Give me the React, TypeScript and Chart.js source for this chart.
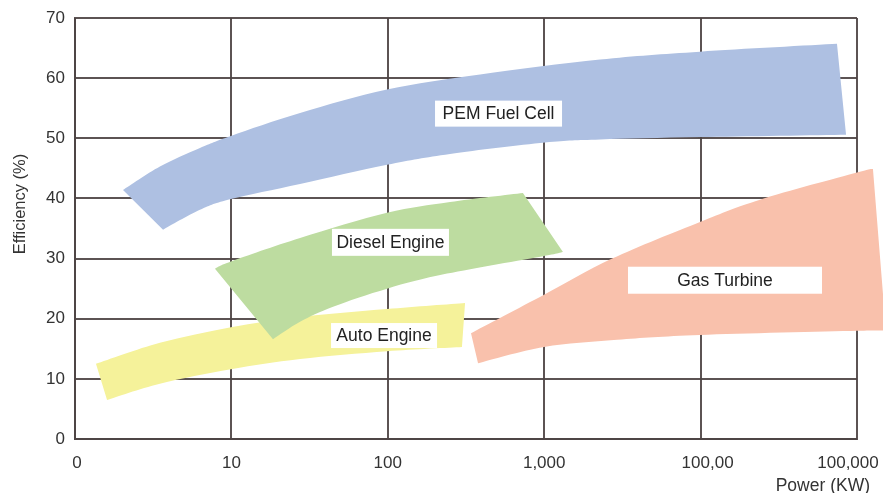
import React, { useEffect, useRef } from "react";
import { Chart, registerables } from "chart.js";

Chart.register(...registerables);

// x values are log10(power in kW); y values are efficiency in %
const pemFuelCellOutline: [number, number][] = [
  [0.307, 41.4], [0.543, 45.3], [0.799, 48.4], [0.997, 50.4], [1.439, 54.2],
  [1.995, 58.1], [2.59, 60.6], [3.357, 63.1], [3.996, 64.4], [4.872, 65.7],
  [4.93, 50.6], [3.996, 50.2], [3.357, 49.8], [3.005, 49.3], [2.398, 47.4],
  [1.995, 45.6], [1.439, 42.4], [0.997, 39.9], [0.799, 38.1], [0.563, 34.8],
];
const autoEngineOutline: [number, number][] = [
  [0.134, 12.5], [0.543, 16.0], [0.997, 18.6], [1.439, 20.3], [1.995, 21.6],
  [2.494, 22.6], [2.474, 15.3], [1.995, 14.6], [1.439, 13.3], [0.997, 11.6],
  [0.543, 9.2], [0.205, 6.5],
];
const dieselEngineOutline: [number, number][] = [
  [0.895, 28.3], [0.997, 29.5], [1.439, 33.4], [1.995, 37.6], [2.398, 39.4],
  [2.864, 40.9], [3.12, 31.1], [2.992, 30.4], [2.379, 27.5], [1.995, 25.0],
  [1.65, 22.0], [1.439, 19.5], [1.266, 16.6],
];
const gasTurbineOutline: [number, number][] = [
  [2.532, 17.6], [2.999, 24.0], [3.434, 30.0], [3.996, 36.1], [4.38, 39.8],
  [5.0, 44.3], [5.102, 44.9], [5.185, 18.0], [5.0, 18.0], [3.996, 17.3],
  [3.466, 16.5], [2.999, 15.3], [2.577, 12.6],
];

const seriesNames = ["PEM Fuel Cell", "Auto Engine", "Diesel Engine", "Gas Turbine"];
const seriesOutlines = [pemFuelCellOutline, autoEngineOutline, dieselEngineOutline, gasTurbineOutline];
const seriesColors = ["#aec0e2", "#f5f29a", "#bddca0", "#f9c1ac"];
// vertices where the band outline has a sharp corner (others are joined smoothly)
const seriesCorners = [[0, 9, 10, 19], [0, 5, 6, 11], [0, 5, 6, 12], [0, 6, 7, 12]];

const powerTickLabels = ["0", "10", "100", "1,000", "100,00", "100,000"];
const efficiencyTicks = [0, 10, 20, 30, 40, 50, 60, 70];

// label anchors (data coords) and white box sizes (px)
const labelTexts = ["PEM Fuel Cell", "Diesel Engine", "Auto Engine", "Gas Turbine"];
const labelAnchors: [number, number][] = [[2.708, 54.1], [2.017, 32.7], [1.976, 17.2], [4.156, 26.4]];
const labelBoxSizes: [number, number][] = [[127, 26], [117, 27], [106, 25], [194, 27]];
const tickLabelShift = [2, 0, 0, 0, 7, -9];

const FONT = '"Liberation Sans", Arial, sans-serif';
const GRID = "rgba(78,68,68,0.92)";

function smoothRun(ctx: any, pts: { x: number; y: number }[]) {
  const n = pts.length;
  for (let i = 0; i < n - 1; i++) {
    const p0 = pts[Math.max(i - 1, 0)];
    const p1 = pts[i];
    const p2 = pts[i + 1];
    const p3 = pts[Math.min(i + 2, n - 1)];
    const c1x = p1.x + (p2.x - p0.x) / 6;
    const c1y = p1.y + (p2.y - p0.y) / 6;
    const c2x = p2.x - (p3.x - p1.x) / 6;
    const c2y = p2.y - (p3.y - p1.y) / 6;
    ctx.bezierCurveTo(c1x, c1y, c2x, c2y, p2.x, p2.y);
  }
}

const polygonFill = {
  id: "polygonFill",
  beforeDatasetsDraw(chart: any) {
    const ctx = chart.ctx;
    chart.data.datasets.forEach((ds: any, i: number) => {
      const meta = chart.getDatasetMeta(i);
      const pts = meta.data.map((p: any) => ({ x: p.x, y: p.y }));
      if (!pts.length) return;
      const corners: number[] = ds.corners;
      ctx.save();
      ctx.beginPath();
      ctx.moveTo(pts[0].x, pts[0].y);
      for (let c = 0; c < corners.length; c++) {
        const a = corners[c];
        const b = c + 1 < corners.length ? corners[c + 1] : pts.length;
        const run = pts.slice(a, b + 1);
        if (b === pts.length) run.push(pts[0]);
        if (c % 2 === 0) smoothRun(ctx, run);
        else ctx.lineTo(run[run.length - 1].x, run[run.length - 1].y);
      }
      ctx.closePath();
      ctx.fillStyle = ds.backgroundColor;
      ctx.fill();
      ctx.restore();
    });
  },
};

const labelsPlugin = {
  id: "bandLabels",
  afterDraw(chart: any) {
    const ctx = chart.ctx;
    const xs = chart.scales.x;
    const ys = chart.scales.y;
    ctx.save();
    labelTexts.forEach((t, i) => {
      const cx = xs.getPixelForValue(labelAnchors[i][0]);
      const cy = ys.getPixelForValue(labelAnchors[i][1]);
      const [w, h] = labelBoxSizes[i];
      ctx.fillStyle = "#ffffff";
      ctx.fillRect(cx - w / 2, cy - h / 2, w, h);
      ctx.fillStyle = "#222222";
      ctx.font = `17.5px ${FONT}`;
      ctx.textAlign = "center";
      ctx.textBaseline = "middle";
      ctx.fillText(t, cx, cy + 1);
    });
    // x tick labels
    ctx.fillStyle = "#333333";
    ctx.font = `17px ${FONT}`;
    ctx.textAlign = "center";
    ctx.textBaseline = "middle";
    powerTickLabels.forEach((t, i) => {
      ctx.fillText(t, xs.getPixelForValue(i) + tickLabelShift[i], ys.bottom + 24);
    });
    // axis titles
    ctx.font = `17.5px ${FONT}`;
    ctx.textAlign = "right";
    ctx.textBaseline = "alphabetic";
    ctx.fillText("Power (KW)", 870, 491);
    ctx.save();
    ctx.translate(25, 204);
    ctx.rotate(-Math.PI / 2);
    ctx.font = `16.5px ${FONT}`;
    ctx.textAlign = "center";
    ctx.textBaseline = "alphabetic";
    ctx.fillText("Efficiency (%)", 0, 0);
    ctx.restore();
    ctx.restore();
  },
};

export default function App() {
  const ref = useRef<HTMLCanvasElement | null>(null);
  useEffect(() => {
    document.body.style.margin = "0";
    const canvas = ref.current;
    if (!canvas) return;
    const chart = new Chart(canvas, {
      type: "scatter",
      data: {
        datasets: seriesOutlines.map((outline, i) => ({
          label: seriesNames[i],
          data: outline.map(([x, y]) => ({ x, y })),
          backgroundColor: seriesColors[i],
          borderColor: seriesColors[i],
          pointRadius: 0,
          pointHoverRadius: 0,
          showLine: false,
          clip: false as any,
          corners: seriesCorners[i],
        })) as any,
      },
      options: {
        responsive: false,
        animation: false,
        devicePixelRatio: 1,
        events: [],
        layout: { padding: { top: 18, right: 26, left: 0, bottom: 0 } },
        plugins: { legend: { display: false }, tooltip: { enabled: false } },
        scales: {
          x: {
            type: "linear",
            min: 0,
            max: 5,
            z: 1,
            afterBuildTicks: (s: any) => {
              s.ticks = powerTickLabels.map((_, i) => ({ value: i }));
            },
            afterFit: (s: any) => {
              s.height = 54;
              s.paddingLeft = 0;
              s.paddingRight = 0;
            },
            grid: { color: GRID, lineWidth: 2, drawTicks: false },
            border: { color: GRID, width: 2 },
            ticks: { display: false },
          },
          y: {
            type: "linear",
            min: 0,
            max: 70,
            z: 1,
            afterBuildTicks: (s: any) => {
              s.ticks = efficiencyTicks.map((v) => ({ value: v }));
            },
            afterFit: (s: any) => {
              s.width = 75;
              s.paddingTop = 0;
              s.paddingBottom = 0;
            },
            grid: { color: GRID, lineWidth: 2, drawTicks: false },
            border: { color: GRID, width: 2 },
            ticks: {
              padding: 10,
              color: "#333333",
              font: { family: FONT, size: 17 },
              autoSkip: false,
              callback: (v: any) => String(v),
            },
          },
        },
      },
      plugins: [polygonFill, labelsPlugin],
    });
    return () => chart.destroy();
  }, []);
  return (
    <div style={{ width: 883, height: 493 }}>
      <canvas ref={ref} width={883} height={493} style={{ display: "block" }} />
    </div>
  );
}
